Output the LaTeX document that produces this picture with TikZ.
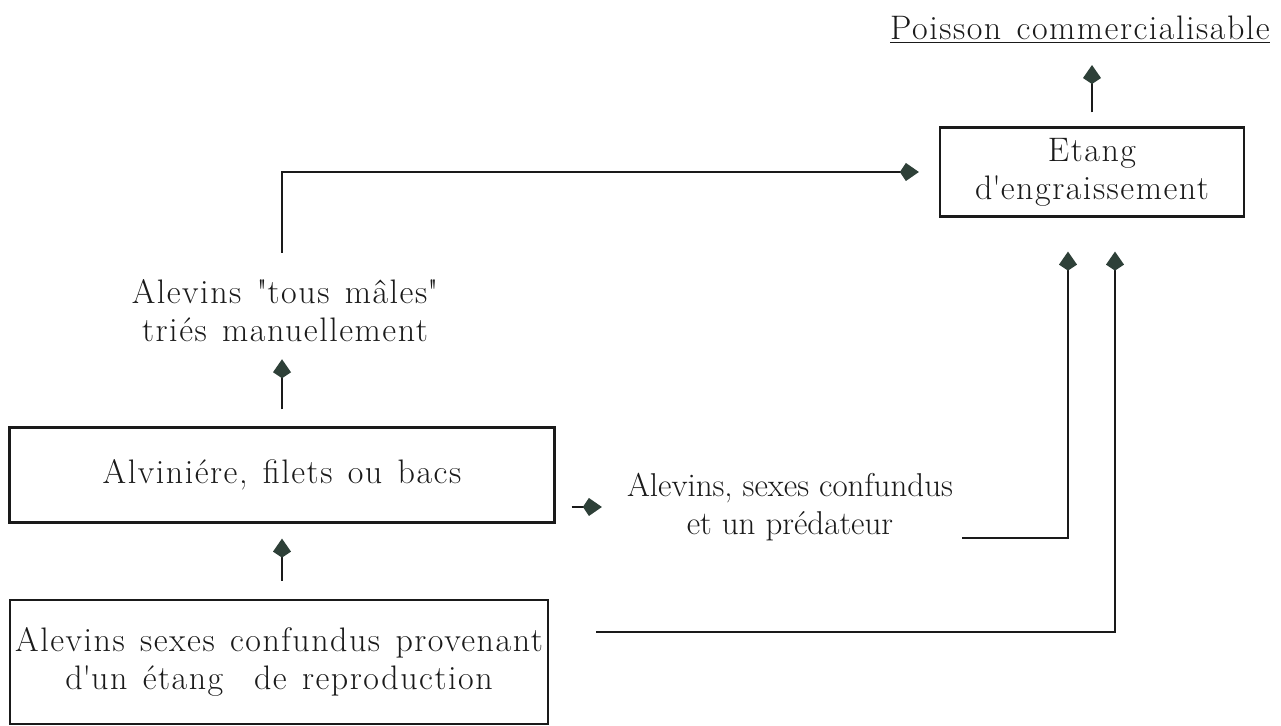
\documentclass[tikz,border=0pt]{standalone}
\usepackage{fontspec}
\setmainfont{Latin Modern Roman}[LetterSpace=4.5,WordSpace=1.3]
\newfontfamily\serre{Latin Modern Roman}
\usetikzlibrary{arrows.meta}
\definecolor{pointe}{HTML}{2E4038}
\definecolor{encre}{HTML}{1A1A1A}
\begin{document}
\begin{tikzpicture}[x=0.5pt,y=-0.5pt,line width=1.1pt,draw=encre,text=encre,
  font=\fontsize{17}{19}\selectfont,
  boite/.style={draw,inner sep=0pt,align=center},
  texte/.style={inner sep=0pt,align=center},
  fleche/.style={-{Kite[length=9.5pt,width=9pt,inset=3pt,fill=pointe,color=pointe]}}]
  \useasboundingbox (0,0) rectangle (1281,726);
  \node[texte] (poisson) at (1080,30) {\underline{Poisson commercialisable}};
  \node[boite,minimum width=152pt,minimum height=44.5pt] (etang) at (1092,172) {Etang\\d\textquotesingle engraissement};
  \node[texte] (tous) at (285,311) {Alevins \textquotedbl tous mâles\textquotedbl\\triés manuellement};
  \node[boite,minimum width=272.5pt,minimum height=47.5pt] (alv) at (282,475) {Alviniére, filets ou bacs};
  \node[texte,font=\serre\fontsize{16.5}{19}\selectfont] (sexes) at (790,507) {Alevins, sexes confundus\\et un prédateur};
  \node[boite,minimum width=269pt,minimum height=62pt] (repro) at (279,662) {Alevins sexes confundus provenant\\d\textquotesingle un étang\ \ de reproduction};
  \draw[fleche,shorten <=7pt,shorten >=10pt] (etang.north) -- (etang.north |- poisson.south);
  \draw[fleche,shorten <=13pt,shorten >=10pt] (tous.north -| alv.north) |- (etang.west);
  \draw[fleche,shorten <=8.5pt,shorten >=8pt] (alv.north) -- (alv.north |- tous.south);
  \draw[fleche,shorten <=9pt,shorten >=7.5pt] (repro.north -| alv.south) -- (alv.south);
  \draw[fleche,shorten <=8pt,shorten >=12pt] (alv.east |- sexes.west) -- (sexes.west);
  \draw[fleche] ([xshift=4pt,yshift=2pt]sexes.south east) -| ([xshift=-12pt,yshift=-17pt]etang.south);
  \draw[fleche] ([xshift=23.5pt,yshift=15pt]repro.east) -| ([xshift=11.5pt,yshift=-17pt]etang.south);
\end{tikzpicture}
\end{document}
